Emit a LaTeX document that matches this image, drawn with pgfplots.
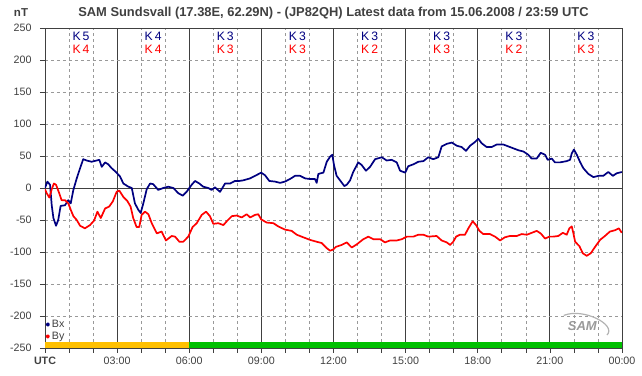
\documentclass[border=0pt]{standalone}
\usepackage{fontspec}
\setmainfont{Liberation Sans}
\usepackage{pgfplots}
\pgfplotsset{compat=1.18}
\definecolor{bxblue}{HTML}{000080}
\definecolor{byred}{HTML}{FF0000}
\definecolor{txtgray}{HTML}{404040}
\definecolor{gridgray}{HTML}{999999}
\definecolor{majgray}{HTML}{404040}
\definecolor{barorange}{HTML}{FFC000}
\definecolor{bargreen}{HTML}{00C000}
\tikzset{kb/.style={text=bxblue, font=\fontsize{12.2}{13}\selectfont, inner sep=0pt},
         kr/.style={text=byred, font=\fontsize{12.2}{13}\selectfont, inner sep=0pt}}
\begin{document}
\begin{tikzpicture}
\begin{axis}[
 name=ax, scale only axis, width=577pt, height=320pt,
 xmin=0, xmax=24, ymin=-250, ymax=250,
 axis line style={majgray, line width=0.8pt},
 xtick={0,3,...,24},
 minor xtick={1,2,4,5,7,8,10,11,13,14,16,17,19,20,22,23},
 xticklabels={\textbf{UTC},03:00,06:00,09:00,12:00,15:00,18:00,21:00,00:00},
 ytick={-250,-200,...,250},
 tick align=outside, xtick pos=bottom, ytick pos=left,
 major tick length=5pt, minor tick length=5pt,
 every tick/.style={majgray, line width=0.6pt},
 ticklabel style={font=\fontsize{10.7}{12}\selectfont, text=txtgray},
 /pgf/number format/assume math mode=true,
 yticklabel style={xshift=-5pt},
 xmajorgrids, xminorgrids, ymajorgrids,
 major x grid style={solid, majgray, line width=0.8pt},
 minor x grid style={dashed, gridgray, line width=0.6pt, dash pattern=on 3pt off 3pt},
 major y grid style={dashed, gridgray, line width=0.6pt, dash pattern=on 3pt off 3pt},
 extra y ticks={0}, extra y tick labels={},
 extra y tick style={grid=major, major y grid style={solid, majgray, line width=0.8pt}, major tick length=0pt},
 legend entries={Bx,By},
 legend style={at={(axis cs:0.02,-203)}, anchor=north west, draw=none, fill=none,
   font=\fontsize{10.7}{12}\selectfont, text=txtgray, inner sep=0pt, row sep=-1pt,
   cells={anchor=west}},
 legend image code/.code={\fill (0.13cm,0) circle (1.3pt);},
 clip=true,
]
\addplot[fill=barorange, draw=none, forget plot] coordinates {(0,-250) (6,-250) (6,-241) (0,-241)} -- cycle;
\addplot[fill=bargreen, draw=none, forget plot] coordinates {(6,-250) (24,-250) (24,-241) (6,-241)} -- cycle;
\addplot[color=bxblue, line width=1.7pt, line join=round] coordinates {
(0.00,0) (0.10,10) (0.21,5) (0.28,-27) (0.35,-47) (0.46,-59) (0.55,-50) (0.65,-28) (0.83,-27) (0.97,-19)
(1.07,-24) (1.18,-3) (1.32,15) (1.46,31) (1.59,45) (1.73,43) (1.94,41) (2.15,43) (2.26,44) (2.36,33)
(2.50,40) (2.63,37) (2.77,31) (2.95,25) (3.12,18) (3.26,7) (3.47,2) (3.61,0) (3.74,-24) (3.88,-34)
(3.98,-39) (4.09,-24) (4.23,-2) (4.37,7) (4.50,6) (4.71,-3) (4.92,0) (5.13,2) (5.34,0) (5.54,-8)
(5.73,-12) (5.89,-6) (6.10,5) (6.24,11) (6.42,7) (6.58,2) (6.79,0) (6.93,-3) (7.07,1) (7.28,-6)
(7.49,7) (7.70,7) (7.90,11) (8.08,11) (8.25,12) (8.53,15) (8.74,19) (8.99,24) (9.15,20) (9.33,11)
(9.57,10) (9.78,8) (9.98,10) (10.19,14) (10.40,19) (10.61,19) (10.82,15) (11.02,14) (11.23,14) (11.30,8)
(11.37,22) (11.58,24) (11.72,41) (11.86,49) (11.95,52) (12.02,36) (12.13,19) (12.27,12) (12.45,3) (12.55,5)
(12.69,12) (12.82,25) (13.03,40) (13.17,36) (13.35,27) (13.52,33) (13.73,45) (14.01,48) (14.21,43) (14.42,44)
(14.63,40) (14.77,27) (14.98,24) (15.11,34) (15.32,37) (15.53,41) (15.74,42) (15.94,48) (16.15,45) (16.36,48)
(16.50,65) (16.71,69) (16.92,71) (17.13,66) (17.33,64) (17.51,58) (17.68,66) (17.89,72) (18.02,77) (18.16,70)
(18.37,64) (18.58,64) (18.79,68) (19.06,68) (19.27,65) (19.48,62) (19.69,59) (19.90,57) (20.10,52) (20.24,46)
(20.45,46) (20.62,55) (20.80,52) (20.91,44) (21.08,46) (21.21,40) (21.42,40) (21.70,42) (21.84,44) (21.91,54)
(22.00,60) (22.12,52) (22.25,41) (22.39,31) (22.60,22) (22.81,17) (23.02,19) (23.22,19) (23.43,25) (23.62,19)
(23.78,23) (23.99,25)
};
\addplot[color=byred, line width=1.7pt, line join=round] coordinates {
(0.00,-2) (0.07,-8) (0.18,-15) (0.28,-2) (0.37,7) (0.46,5) (0.59,-8) (0.69,-19) (0.83,-19) (0.97,-24)
(1.07,-34) (1.18,-44) (1.32,-50) (1.46,-59) (1.66,-63) (1.87,-58) (2.04,-51) (2.18,-37) (2.32,-47) (2.50,-32)
(2.67,-29) (2.82,-21) (2.98,-6) (3.09,-4) (3.26,-14) (3.42,-20) (3.56,-29) (3.67,-47) (3.81,-61) (3.92,-61)
(4.02,-42) (4.16,-37) (4.30,-41) (4.44,-55) (4.65,-71) (4.85,-68) (5.03,-82) (5.27,-75) (5.41,-76) (5.59,-84)
(5.75,-84) (5.96,-76) (6.14,-61) (6.31,-55) (6.52,-42) (6.70,-37) (6.86,-44) (7.00,-56) (7.21,-55) (7.42,-58)
(7.56,-52) (7.77,-44) (7.97,-43) (8.18,-46) (8.39,-41) (8.53,-46) (8.74,-42) (8.87,-41) (8.99,-49) (9.22,-54)
(9.50,-55) (9.70,-60) (9.98,-65) (10.26,-67) (10.47,-73) (10.74,-77) (11.02,-81) (11.30,-84) (11.51,-86) (11.72,-94)
(11.86,-98) (11.99,-96) (12.10,-92) (12.34,-89) (12.55,-85) (12.76,-93) (12.97,-88) (13.24,-80) (13.45,-76) (13.66,-80)
(13.94,-80) (14.14,-85) (14.35,-82) (14.63,-82) (14.84,-80) (15.05,-76) (15.32,-76) (15.53,-73) (15.74,-73) (15.94,-76)
(16.29,-75) (16.50,-82) (16.71,-85) (16.85,-89) (16.98,-84) (17.10,-76) (17.26,-73) (17.47,-73) (17.61,-63) (17.79,-52)
(17.93,-58) (18.07,-67) (18.23,-72) (18.51,-72) (18.72,-76) (18.93,-82) (19.13,-77) (19.34,-75) (19.62,-75) (19.83,-72)
(20.04,-73) (20.25,-70) (20.45,-67) (20.62,-71) (20.80,-79) (20.98,-76) (21.14,-76) (21.35,-75) (21.54,-70) (21.70,-73)
(21.81,-63) (21.91,-60) (21.98,-71) (22.05,-84) (22.23,-91) (22.37,-102) (22.53,-106) (22.70,-102) (22.88,-92) (23.09,-81)
(23.29,-75) (23.50,-68) (23.71,-66) (23.87,-63) (23.99,-70)
};
% K indices
\node[kb] at (axis cs:1.5,236.5) {K\,5};   \node[kr] at (axis cs:1.5,216.3) {K\,4};
\node[kb] at (axis cs:4.5,236.5) {K\,4};   \node[kr] at (axis cs:4.5,216.3) {K\,4};
\node[kb] at (axis cs:7.5,236.5) {K\,3};   \node[kr] at (axis cs:7.5,216.3) {K\,3};
\node[kb] at (axis cs:10.5,236.5) {K\,3};  \node[kr] at (axis cs:10.5,216.3) {K\,3};
\node[kb] at (axis cs:13.5,236.5) {K\,3};  \node[kr] at (axis cs:13.5,216.3) {K\,2};
\node[kb] at (axis cs:16.5,236.5) {K\,3};  \node[kr] at (axis cs:16.5,216.3) {K\,3};
\node[kb] at (axis cs:19.5,236.5) {K\,3};  \node[kr] at (axis cs:19.5,216.3) {K\,2};
\node[kb] at (axis cs:22.5,236.5) {K\,3};  \node[kr] at (axis cs:22.5,216.3) {K\,3};
% logo
\node[text=gray!80, font=\fontsize{13}{14}\selectfont\bfseries\itshape, inner sep=0pt] (logo) at (axis cs:22.35,-216) {SAM};
\draw[gray!60, line width=1.2pt] ([xshift=-4pt,yshift=6pt]logo.north west) .. controls +(20pt,8pt) and +(10pt,10pt) .. ([xshift=10pt,yshift=-4pt]logo.south east);
\end{axis}
\node[font=\fontsize{12.9}{14}\selectfont\bfseries, text=txtgray] at ([yshift=14.5pt]ax.north) {SAM Sundsvall (17.38E, 62.29N) - (JP82QH) Latest data from 15.06.2008 / 23:59 UTC};
\node[font=\fontsize{11.5}{12}\selectfont\bfseries, text=txtgray] at ([xshift=-24pt,yshift=15.5pt]ax.north west) {nT};
\pgfresetboundingbox
\path[use as bounding box] ([xshift=-45pt,yshift=-28pt]ax.south west) rectangle ([xshift=20pt,yshift=28pt]ax.north east);
\end{tikzpicture}
\end{document}
